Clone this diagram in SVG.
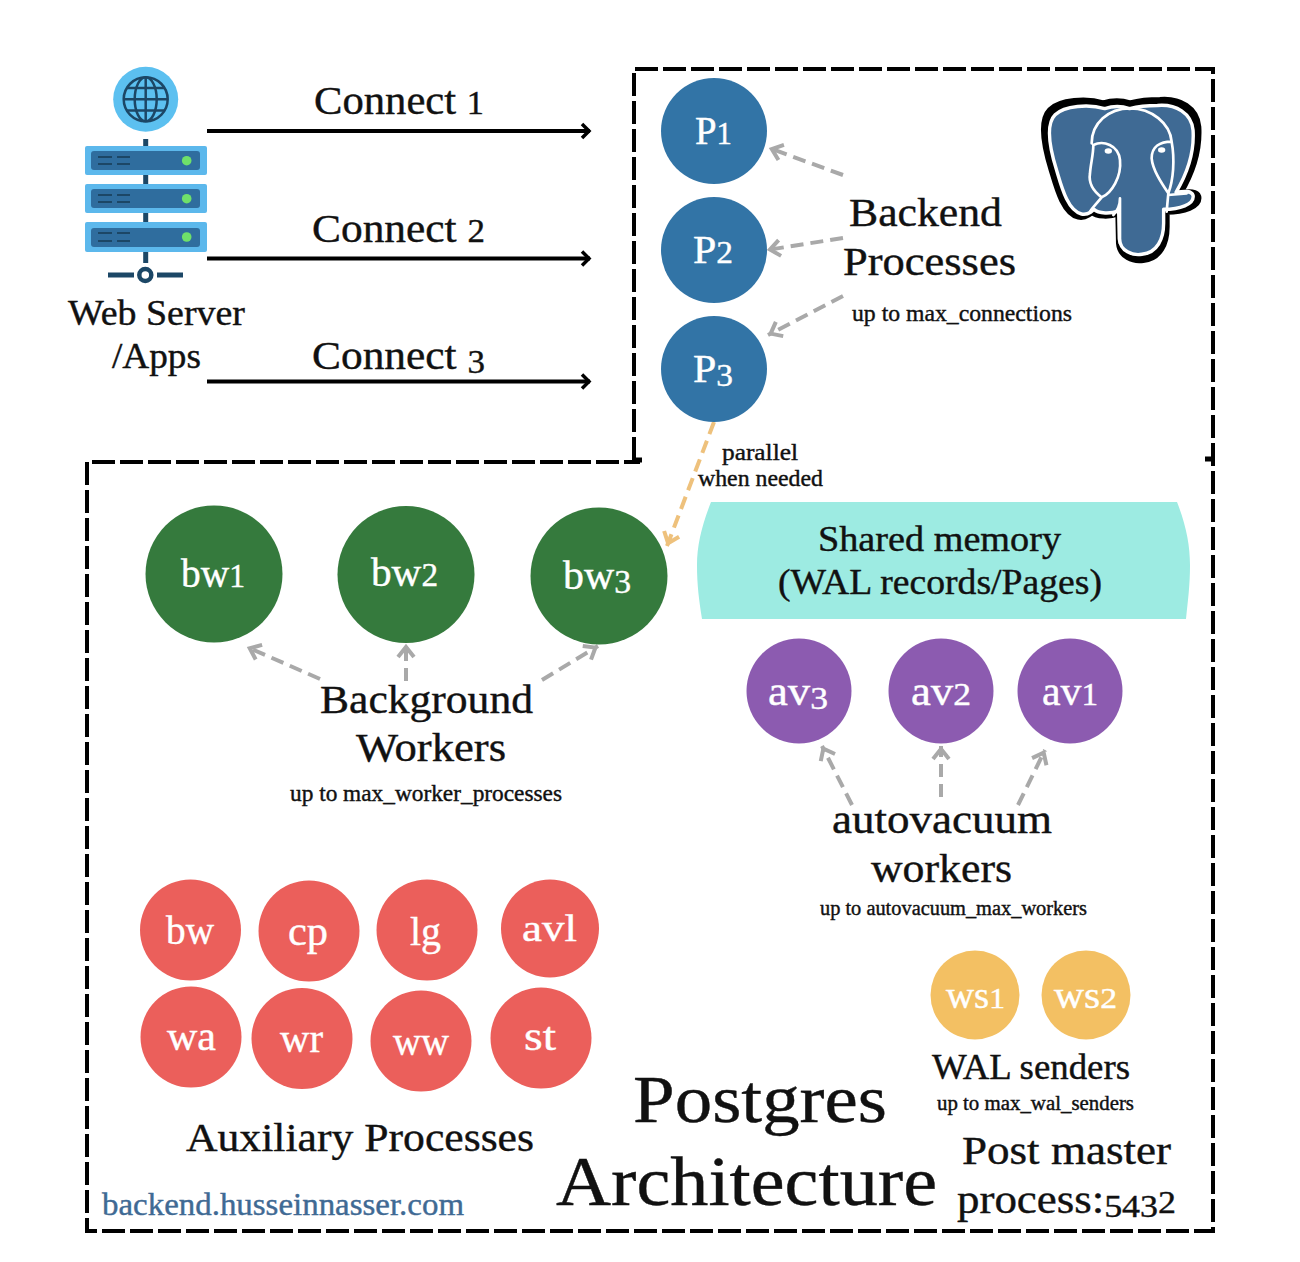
<svg xmlns="http://www.w3.org/2000/svg" width="1300" height="1262" viewBox="0 0 1300 1262">
<style>
text{font-family:"Liberation Serif","Times New Roman",serif;fill:#111;text-anchor:start;stroke:#111;stroke-width:.4}
.w{fill:#fff;stroke:#fff}
.p{fill:#3274a6}.g{fill:#357a3d}.v{fill:#8c5bb0}.r{fill:#eb5f5b}.y{fill:#f3c063}
.a{fill:none;stroke:#000;stroke-width:4}
.d{fill:none;stroke:#a9a9a9;stroke-width:4;stroke-dasharray:13 7;marker-end:url(#ga)}
.rk{fill:#5cb8ec}.rn{fill:#2f6d9e}.dk{stroke:#1c4766;fill:none}
.wl{fill:none;stroke:#fff;stroke-width:8;stroke-linejoin:round;stroke-linecap:round}
</style>
<defs>
<marker id="ba" markerUnits="userSpaceOnUse" markerWidth="20" markerHeight="20" refX="15" refY="10" orient="auto"><path d="M7 3L14 10L7 17" fill="none" stroke="#000" stroke-width="3.500"/></marker>
<marker id="ga" markerUnits="userSpaceOnUse" markerWidth="24" markerHeight="24" refX="17" refY="12" orient="auto"><path d="M4 4L14 12L4 20" fill="none" stroke="#a9a9a9" stroke-width="4"/></marker>
<marker id="oa" markerUnits="userSpaceOnUse" markerWidth="24" markerHeight="24" refX="17" refY="12" orient="auto"><path d="M4 4L14 12L4 20" fill="none" stroke="#eec17c" stroke-width="4"/></marker>
<path id="el" d="M250 70C200 55 120 60 90 90C60 120 70 190 95 270C110 320 130 400 175 410C200 415 215 395 215 395C230 410 270 410 295 400L297 490C300 530 340 545 370 540C420 535 440 490 440 440V395C490 395 540 380 535 350C530 335 510 335 480 340C510 290 540 220 535 140C530 85 480 55 420 60C380 60 350 65 330 70C300 60 275 62 250 70Z"/>
</defs>
<rect width="1300" height="1262" fill="#fff"/>
<g id="frame"><path d="M634 460V69H1213V1231H87V462H640" fill="none" stroke="#000" stroke-width="4" stroke-dasharray="23 5"/><path d="M632 460H642M1205 459H1214" stroke="#000" stroke-width="5"/></g>
<g id="connectors">
<path class="a" d="M207 131H590" marker-end="url(#ba)"/>
<path class="a" d="M207 258.500H590" marker-end="url(#ba)"/>
<path class="a" d="M207 381.500H590" marker-end="url(#ba)"/>
<path class="d" d="M843 175L769 148"/>
<path class="d" d="M843 238L767 250"/>
<path class="d" d="M843 296L768 335"/>
<path d="M714 422L667 546" fill="none" stroke="#eec17c" stroke-width="4" stroke-dasharray="13 7" marker-end="url(#oa)"/>
<path class="d" d="M320 679L247 647"/>
<path class="d" d="M406 681V644"/>
<path class="d" d="M542 680L598 646"/>
<path class="d" d="M852 805L822 746"/>
<path class="d" d="M941 797V746"/>
<path class="d" d="M1018 805L1045 750"/>
</g>
<g id="web-server">
<circle cx="145.700" cy="99.300" r="32.500" fill="#5cc0f0"/>
<g class="dk" stroke-width="2.500"><circle cx="145.700" cy="99.300" r="22"/><ellipse cx="145.700" cy="99.300" rx="11" ry="22"/><path d="M145.700 77.300V121.300M123.700 99.300H167.700M127 88H164.500M127 110.500H164.500"/></g>
<path class="dk" stroke-width="5" d="M145.700 139V146M145.700 175V184M145.700 213V222M145.700 252V263"/>
<rect class="rk" x="85" y="146" width="122" height="29" rx="2"/><rect class="rn" x="91" y="151" width="109" height="19" rx="3"/>
<rect class="rk" x="85" y="184" width="122" height="29" rx="2"/><rect class="rn" x="91" y="189" width="109" height="19" rx="3"/>
<rect class="rk" x="85" y="222" width="122" height="30" rx="2"/><rect class="rn" x="91" y="228" width="109" height="19" rx="3"/>
<g fill="#6fe06a"><circle cx="186.700" cy="160.700" r="4.800"/><circle cx="186.700" cy="198.700" r="4.800"/><circle cx="186.700" cy="237" r="4.800"/></g>
<path class="dk" stroke-width="2" d="M98 157H112M117 157H130M98 164H112M117 164H130M98 195H112M117 195H130M98 202H112M117 202H130M98 233H112M117 233H130M98 241H112M117 241H130"/>
<circle cx="145.300" cy="275" r="6" fill="#fff" stroke="#1c4766" stroke-width="4.500"/>
<path class="dk" stroke-width="5" d="M108 275H134M157 275H183"/>
<text x="68" y="325" font-size="36" lengthAdjust="spacingAndGlyphs" textLength="177">Web Server</text>
<text x="112" y="368" font-size="36" lengthAdjust="spacingAndGlyphs" textLength="89">/Apps</text>
</g>
<g id="connect-labels">
<text x="314" y="114" font-size="41" lengthAdjust="spacingAndGlyphs" textLength="170">Connect <tspan font-size="33">1</tspan></text>
<text x="312" y="242" font-size="41" lengthAdjust="spacingAndGlyphs" textLength="173">Connect <tspan font-size="33">2</tspan></text>
<text x="312" y="369" font-size="41" lengthAdjust="spacingAndGlyphs" textLength="173">Connect <tspan font-size="33" dy="4">3</tspan></text>
</g>
<g id="postgres-logo" transform="translate(1020 80) scale(.3333)">
<use href="#el" fill="#000" stroke="#000" stroke-width="18" stroke-linejoin="round"/>
<use href="#el" transform="translate(310 295) scale(.93) translate(-310 -295)" fill="#3f6a94" stroke="#fff" stroke-width="11" stroke-linejoin="round"/>
<path class="wl" d="M215 190C215 130 265 85 330 85C395 85 450 130 455 185M220 195C250 180 295 195 300 240C305 290 275 340 245 352C222 335 205 310 210 280C212 250 220 225 220 195M455 185C420 185 395 200 395 235C398 270 425 310 445 340C460 300 465 240 455 185M245 352C230 370 215 385 210 395M300 355C300 375 290 395 280 405M300 355L300 490M445 340L440 395M445 345L500 340"/>
<ellipse cx="265" cy="213" rx="11" ry="8" fill="#fff"/><ellipse cx="425" cy="210" rx="11" ry="8" fill="#fff"/>
</g>
<g id="p1"><circle class="p" cx="714" cy="131" r="53"/><text class="w" x="695" y="144" font-size="39" lengthAdjust="spacingAndGlyphs" textLength="37">P<tspan font-size="31">1</tspan></text></g>
<g id="p2"><circle class="p" cx="714" cy="250" r="53"/><text class="w" x="693" y="263" font-size="39" lengthAdjust="spacingAndGlyphs" textLength="40">P<tspan font-size="31">2</tspan></text></g>
<g id="p3"><circle class="p" cx="714" cy="369" r="53"/><text class="w" x="693" y="382" font-size="39" lengthAdjust="spacingAndGlyphs" textLength="40">P<tspan font-size="31" dy="4">3</tspan></text></g>
<g id="backend-label">
<text x="849" y="226" font-size="41" lengthAdjust="spacingAndGlyphs" textLength="153">Backend</text>
<text x="843" y="275" font-size="41" lengthAdjust="spacingAndGlyphs" textLength="173">Processes</text>
<text x="852" y="321" font-size="23" lengthAdjust="spacingAndGlyphs" textLength="220">up to max_connections</text>
</g>
<g id="parallel-label">
<text x="722" y="460" font-size="23" lengthAdjust="spacingAndGlyphs" textLength="76">parallel</text>
<text x="698" y="486" font-size="23" lengthAdjust="spacingAndGlyphs" textLength="125">when needed</text>
</g>
<g id="shared-memory">
<path d="M711 502H1177C1186 525 1190 545 1190 565C1190 585 1188 600 1186 619H702C699 600 697 585 697 565C697 545 702 525 711 502Z" fill="#9debe2"/>
<text x="818" y="551" font-size="35" lengthAdjust="spacingAndGlyphs" textLength="243">Shared memory</text>
<text x="778" y="594" font-size="35" lengthAdjust="spacingAndGlyphs" textLength="324">(WAL records/Pages)</text>
</g>
<g id="bw1"><circle class="g" cx="214" cy="574" r="68.500"/><text class="w" x="181" y="587" font-size="41" lengthAdjust="spacingAndGlyphs" textLength="64">bw<tspan font-size="33">1</tspan></text></g>
<g id="bw2"><circle class="g" cx="406" cy="574.500" r="68.500"/><text class="w" x="371" y="586" font-size="41" lengthAdjust="spacingAndGlyphs" textLength="67">bw<tspan font-size="33">2</tspan></text></g>
<g id="bw3"><circle class="g" cx="599" cy="576" r="68.500"/><text class="w" x="563" y="589" font-size="41" lengthAdjust="spacingAndGlyphs" textLength="68">bw<tspan font-size="33" dy="4">3</tspan></text></g>
<g id="background-label">
<text x="320" y="713" font-size="41" lengthAdjust="spacingAndGlyphs" textLength="213">Background</text>
<text x="356" y="761" font-size="41" lengthAdjust="spacingAndGlyphs" textLength="150">Workers</text>
<text x="290" y="801" font-size="23" lengthAdjust="spacingAndGlyphs" textLength="272">up to max_worker_processes</text>
</g>
<g id="av3"><circle class="v" cx="799" cy="691" r="52.500"/><text class="w" x="768" y="705" font-size="39" lengthAdjust="spacingAndGlyphs" textLength="60">av<tspan font-size="31" dy="4">3</tspan></text></g>
<g id="av2"><circle class="v" cx="941" cy="691" r="52.500"/><text class="w" x="911" y="705" font-size="39" lengthAdjust="spacingAndGlyphs" textLength="60">av<tspan font-size="31">2</tspan></text></g>
<g id="av1"><circle class="v" cx="1070" cy="691" r="52.500"/><text class="w" x="1042" y="705" font-size="39" lengthAdjust="spacingAndGlyphs" textLength="56">av<tspan font-size="31">1</tspan></text></g>
<g id="autovacuum-label">
<text x="832" y="833" font-size="41" lengthAdjust="spacingAndGlyphs" textLength="220">autovacuum</text>
<text x="871" y="882" font-size="41" lengthAdjust="spacingAndGlyphs" textLength="141">workers</text>
<text x="820" y="915" font-size="20" lengthAdjust="spacingAndGlyphs" textLength="267">up to autovacuum_max_workers</text>
</g>
<g id="aux-bw"><circle class="r" cx="190.500" cy="930" r="50.500"/><text class="w" x="166" y="944" font-size="40" lengthAdjust="spacingAndGlyphs" textLength="48">bw</text></g>
<g id="aux-cp"><circle class="r" cx="309" cy="931" r="50.500"/><text class="w" x="288" y="945" font-size="40" lengthAdjust="spacingAndGlyphs" textLength="40">cp</text></g>
<g id="aux-lg"><circle class="r" cx="427" cy="930" r="50.500"/><text class="w" x="410" y="945" font-size="40" lengthAdjust="spacingAndGlyphs" textLength="31">lg</text></g>
<g id="aux-avl"><circle class="r" cx="550" cy="928.500" r="49"/><text class="w" x="522" y="941" font-size="38" lengthAdjust="spacingAndGlyphs" textLength="55">avl</text></g>
<g id="aux-wa"><circle class="r" cx="191" cy="1037" r="50.500"/><text class="w" x="167" y="1050" font-size="40" lengthAdjust="spacingAndGlyphs" textLength="49">wa</text></g>
<g id="aux-wr"><circle class="r" cx="302" cy="1038.500" r="50.500"/><text class="w" x="280" y="1052" font-size="40" lengthAdjust="spacingAndGlyphs" textLength="43">wr</text></g>
<g id="aux-ww"><circle class="r" cx="421" cy="1041" r="50.500"/><text class="w" x="393" y="1055" font-size="40" lengthAdjust="spacingAndGlyphs" textLength="56">ww</text></g>
<g id="aux-st"><circle class="r" cx="541" cy="1038" r="50.500"/><text class="w" x="524" y="1050" font-size="40" lengthAdjust="spacingAndGlyphs" textLength="32">st</text></g>
<g id="aux-label"><text x="186" y="1151" font-size="41" lengthAdjust="spacingAndGlyphs" textLength="348">Auxiliary Processes</text></g>
<g id="ws1"><circle class="y" cx="975" cy="995" r="44.500"/><text class="w" x="946" y="1008" font-size="37" lengthAdjust="spacingAndGlyphs" textLength="59">ws<tspan font-size="30">1</tspan></text></g>
<g id="ws2"><circle class="y" cx="1086" cy="995" r="44.500"/><text class="w" x="1054" y="1008" font-size="37" lengthAdjust="spacingAndGlyphs" textLength="63">ws<tspan font-size="30">2</tspan></text></g>
<g id="wal-label">
<text x="932" y="1079" font-size="35" lengthAdjust="spacingAndGlyphs" textLength="198">WAL senders</text>
<text x="937" y="1110" font-size="20" lengthAdjust="spacingAndGlyphs" textLength="197">up to max_wal_senders</text>
</g>
<g id="postmaster-label">
<text x="962" y="1164" font-size="40" lengthAdjust="spacingAndGlyphs" textLength="209">Post master</text>
<text x="957" y="1213" font-size="40" lengthAdjust="spacingAndGlyphs" textLength="219">process:<tspan font-size="32" dy="4">543</tspan><tspan font-size="32" dy="-4">2</tspan></text>
</g>
<g id="title">
<text x="633" y="1122" font-size="67" lengthAdjust="spacingAndGlyphs" textLength="254">Postgres</text>
<text x="556" y="1205" font-size="69" lengthAdjust="spacingAndGlyphs" textLength="381">Architecture</text>
</g>
<g id="site"><text x="102" y="1215" font-size="31" lengthAdjust="spacingAndGlyphs" textLength="362" style="fill:#3f6a94;stroke:#3f6a94">backend.husseinnasser.com</text></g>
</svg>
